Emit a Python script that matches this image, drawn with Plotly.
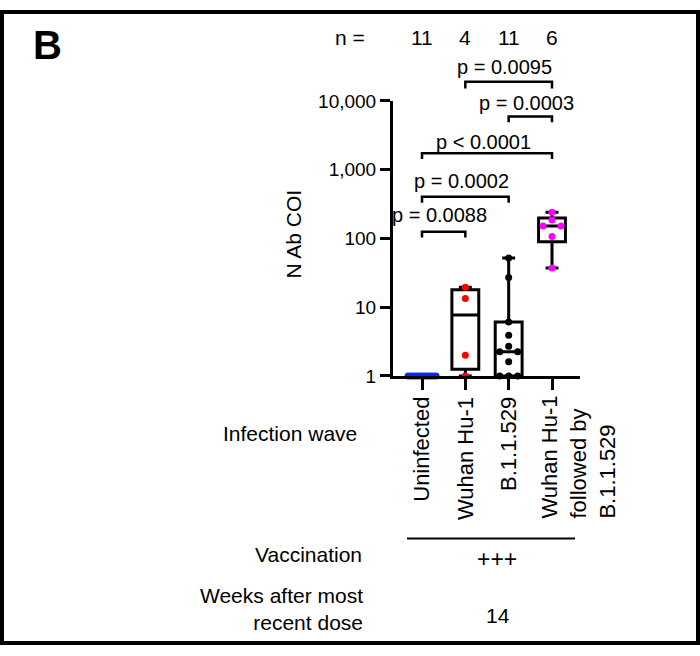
import numpy as np
import plotly.graph_objects as go

# ---------------- data ----------------
categories = ["Uninfected", "Wuhan Hu-1", "B.1.1.529", "Wuhan Hu-1<br>followed by<br>B.1.1.529"]
uninfected = [1, 1, 1, 1, 1, 1, 1, 1, 1, 1, 1]
wuhan = [1.0, 2.0, 13.4, 19.5]
b11529 = [1.0, 1.0, 1.0, 1.6, 2.25, 2.25, 2.7, 3.9, 6.1, 27, 52]
combined = [37, 107, 152, 152, 185, 240]
series = [uninfected, wuhan, b11529, combined]
colors = ["rgb(0,40,255)", "rgb(255,0,0)", "rgb(0,0,0)", "rgb(255,0,255)"]
n_labels = ["11", "4", "11", "6"]
ytick_vals = [1, 10, 100, 1000, 10000]
ytick_text = ["1", "10", "100", "1,000", "10,000"]
comparisons = [(1, 2, "p = 0.0088"), (1, 3, "p = 0.0002"), (1, 4, "p < 0.0001"),
               (3, 4, "p = 0.0003"), (2, 4, "p = 0.0095")]

# ---------------- layout constants (pixels) ----------------
W, H = 700, 656
FONT = "Liberation Sans, Arial, sans-serif"
X_AX_L, X_AX_R = 393, 580       # x-axis line extent
Y_AX_T, Y_AX_B = 94, 378        # y-axis extent (10000 .. 1)
CAT0_PX, CAT_STEP = 422, 130 / 3
PX_PER_DEC = (Y_AX_B - Y_AX_T) / 4

def px(x):
    return x / W

def py(y):
    return 1 - y / H

x_lo = 1 - (CAT0_PX - X_AX_L) / CAT_STEP
x_hi = 4 + (X_AX_R - (CAT0_PX + 3 * CAT_STEP)) / CAT_STEP

positions = [1, 2, 3, 4]

def swarm_offsets(vals, d_px=9.0, near_px=7.0, cap_px=14.0):
    """GraphPad-like horizontal spreading of points that would overlap."""
    vals = np.asarray(vals, float)
    order = np.argsort(vals)
    ypix = -PX_PER_DEC * np.log10(vals)
    clusters, cur = [], [order[0]]
    for a, b in zip(order[:-1], order[1:]):
        if abs(ypix[a] - ypix[b]) < near_px:
            cur.append(b)
        else:
            clusters.append(cur)
            cur = [b]
    clusters.append(cur)
    off = np.zeros(len(vals))
    for c in clusters:
        n = len(c)
        slots = (np.arange(n) - (n - 1) / 2) * d_px
        mx = np.abs(slots).max() if n > 1 else 0
        if mx > cap_px:
            slots = slots * cap_px / mx
        slots = sorted(slots, key=lambda s: (abs(s), s))
        members = sorted(c, key=lambda i: -vals[i])
        for i, s in zip(members, slots):
            off[i] = s
    return off / CAT_STEP

fig = go.Figure()

# boxes (min..max whiskers, n+1 quartiles as in GraphPad)
for pos, vals in zip(positions, series):
    v = np.asarray(vals, float)
    q1, med, q3 = np.percentile(v, [25, 50, 75], method="weibull")
    fig.add_trace(go.Box(
        x=[pos], q1=[q1], median=[med], q3=[q3],
        lowerfence=[v.min()], upperfence=[v.max()],
        width=0.62, whiskerwidth=0.48,
        line=dict(color="black", width=3), fillcolor="rgba(0,0,0,0)",
        boxpoints=False, showlegend=False, hoverinfo="skip"))

# points
for pos, vals, col in zip(positions, series, colors):
    offs = swarm_offsets(vals)
    fig.add_trace(go.Scatter(
        x=pos + offs, y=vals, mode="markers",
        marker=dict(color=col, size=7, line=dict(width=0)),
        cliponaxis=False, showlegend=False))

annotations = []
shapes = []

def txt(text, x, y, size=21, xref="paper", xanchor="center", yanchor="middle",
        angle=0, align="center", bold=False, xshift=0):
    if bold:
        text = "<b>" + text + "</b>"
    annotations.append(dict(text=text, x=x, y=y, xref=xref, yref="paper",
                            xanchor=xanchor, yanchor=yanchor, textangle=angle,
                            align=align, showarrow=False, xshift=xshift,
                            font=dict(family=FONT, size=size, color="black")))

# panel letter and n row
txt("B", px(47), py(36), size=40, bold=True)
txt("n =", px(350), py(28), size=21)
for pos, n in zip(positions, n_labels):
    txt(n, pos, py(28), size=21, xref="x")

# p-value brackets
bracket_px = {"p = 0.0088": (229, 235, 212), "p = 0.0002": (193, 199, 177),
              "p < 0.0001": (148, 154, 136), "p = 0.0003": (110, 116, 96),
              "p = 0.0095": (74, 81, 59)}
for a, b, label in comparisons:
    yt, yb, ytxt = bracket_px[label]
    shapes.append(dict(type="path", xref="x", yref="paper",
                       path=f"M {a},{py(yb)} L {a},{py(yt)} L {b},{py(yt)} L {b},{py(yb)}",
                       line=dict(color="black", width=2.5)))
    txt(label, (a + b) / 2, py(ytxt), size=20, xref="x", xshift=-4)

# y-axis title
txt("N Ab COI", px(294), py(232), size=21, angle=-90)

# category labels (rotated)
for pos, cat in zip(positions[:3], categories[:3]):
    txt(cat, pos, py(398), size=22, xref="x", yanchor="top", angle=-90)
txt(categories[3], 4, py(528), size=22, xref="x", xanchor="left", yanchor="bottom",
    angle=-90, align="left", xshift=-17)

# left-hand row labels
txt("Infection wave", px(359), py(437), xanchor="right")
txt("Vaccination", px(364), py(563), xanchor="right")
txt("Weeks after most<br>recent dose", px(365), py(619), xanchor="right", align="right")
shapes.append(dict(type="line", xref="paper", yref="paper", x0=px(407), x1=px(575),
                   y0=py(546), y1=py(546), line=dict(color="black", width=2)))
txt("+++", px(497), py(567), size=23)
txt("14", px(498), py(626))

# outer frame
shapes.append(dict(type="rect", xref="paper", yref="paper", x0=px(2), x1=px(698),
                   y0=py(654), y1=py(2), line=dict(color="black", width=4)))

fig.update_layout(
    width=W, height=H, margin=dict(l=0, r=0, t=0, b=0),
    paper_bgcolor="white", plot_bgcolor="white",
    showlegend=False, annotations=annotations, shapes=shapes,
    xaxis=dict(domain=[px(X_AX_L), px(X_AX_R)], range=[x_lo, x_hi],
               showline=True, linewidth=3, linecolor="black",
               ticks="outside", ticklen=11, tickwidth=3, tickcolor="black",
               tickvals=positions, showticklabels=False,
               showgrid=False, zeroline=False, fixedrange=True),
    yaxis=dict(domain=[py(Y_AX_B), py(Y_AX_T)], type="log", range=[0, 4],
               showline=True, linewidth=3, linecolor="black",
               ticks="outside", ticklen=10, tickwidth=3, tickcolor="black",
               tickvals=ytick_vals, ticktext=ytick_text,
               tickfont=dict(family=FONT, size=19, color="black"),
               showgrid=False, zeroline=False, fixedrange=True),
)

fig.write_html("out.html")
